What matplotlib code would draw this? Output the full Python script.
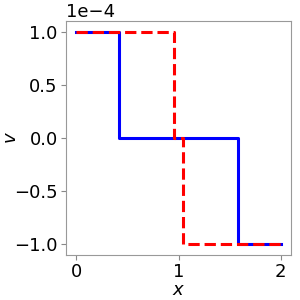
import matplotlib
matplotlib.use("Agg")
import matplotlib.pyplot as plt

# step profiles: breakpoints in x and the value held from each one
blue_x = [0.0, 0.42, 1.58, 2.0]
blue_v = [1e-4, 0.0, -1e-4, -1e-4]
red_x = [0.0, 0.96, 1.04, 2.0]
red_v = [1e-4, 0.0, -1e-4, -1e-4]

fig = plt.figure(figsize=(3, 3), dpi=100)
ax = fig.add_axes([0.22, 0.15, 0.75, 0.78])

ax.step(blue_x, blue_v, where="post", color="blue", lw=2.2)
ax.step(red_x, red_v, where="post", color="red", lw=2.2, ls="--")

ax.set_xticks([0, 1, 2])
ax.set_yticks([-1e-4, -0.5e-4, 0, 0.5e-4, 1e-4])
ax.ticklabel_format(axis="y", style="sci", scilimits=(0, 0))
ax.tick_params(labelsize=13, color="#888888", pad=2.5)
ax.yaxis.get_offset_text().set_fontsize(13)
for s in ax.spines.values():
    s.set_color("#999999")

ax.set_xlabel("$x$", fontsize=13, labelpad=0)
ax.set_ylabel("$v$", fontsize=13)
ax.yaxis.set_label_coords(-0.205, 0.5)

fig.savefig("out.png")
